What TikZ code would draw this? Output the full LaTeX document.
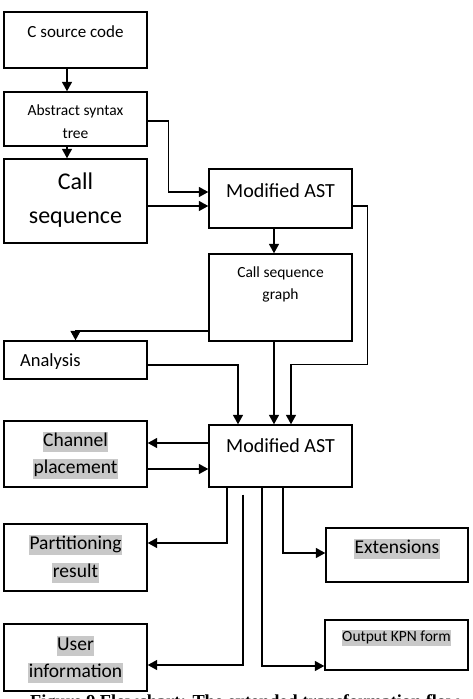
\documentclass[tikz,border=0pt]{standalone}
\usepackage{fontspec}
\setmainfont{Carlito}
\newfontfamily\capfont{Liberation Serif}
\usepackage{tikz}
\usetikzlibrary{arrows.meta}

\definecolor{hlgray}{RGB}{200,200,200}
\newcommand{\hlt}[1]{{\setlength\fboxsep{0.5pt}\colorbox{hlgray}{\rule[-5pt]{0pt}{18.5pt}#1}}}

\tikzset{
  box/.style={draw, line width=1.4pt, minimum width=143pt, inner sep=0pt},
  txt/.style={inner sep=0pt, align=center},
  arr/.style={-{Triangle[length=9.5pt,width=10pt]}, line width=1.4pt},
}

\begin{document}
\begin{tikzpicture}[x=1pt,y=-1pt]
        \path[use as bounding box, fill=white] (0,0) rectangle (473,699);
        % left column
        \node[box, minimum height=56pt] (src) at (75.5,40) {};
        \node[box, minimum height=54pt] (ast) at (75.5,119) {};
        \node[box, minimum height=84pt] (cseq) at (75.5,201) {};
        \node[box, minimum height=38pt] (ana) at (75.5,360) {};
        \node[box, minimum height=66pt] (chan) at (75.5,454) {};
        \node[box, minimum height=67pt] (part) at (75.5,557.5) {};
        \node[box, minimum height=67pt] (user) at (75.5,657.5) {};
        % middle column
        \node[box, minimum height=59pt] (mast) at (280.5,198.5) {};
        \node[box, minimum height=87pt] (csg) at (280.5,297.5) {};
        \node[box, minimum height=62pt] (mast2) at (280.5,456) {};
        % right column
        \node[box, minimum width=142pt, minimum height=54pt] (ext) at (397,555) {};
        \node[box, minimum height=50pt] (kpn) at (396.5,645) {};

        % texts
        \node[txt, font=\fontsize{17}{20}\selectfont] (srcT) at (75.5,32) {C source code};
        \node[txt, font=\fontsize{15.5}{23}\selectfont] (astT) at (75.5,121.5) {Abstract syntax\\tree};
        \node[txt, font=\fontsize{24}{34}\selectfont] (cseqT) at (75.5,200) {Call\\sequence};
        \node[txt, anchor=west, font=\fontsize{18.5}{22}\selectfont] (anaT) at (20,362) {Analysis};
        \node[txt, font=\fontsize{19.5}{27}\selectfont] (chanT) at (75.5,455.5) {\hlt{Channel}\\\hlt{placement}};
        \node[txt, font=\fontsize{19.5}{28}\selectfont] (partT) at (75.5,559) {\hlt{Partitioning}\\\hlt{result}};
        \node[txt, font=\fontsize{19.5}{27}\selectfont] (userT) at (75.5,659.5) {\hlt{User}\\\hlt{information}};
        \node[txt, font=\fontsize{20}{24}\selectfont] (mastT) at (280.5,191) {Modified AST};
        \node[txt, font=\fontsize{15.5}{22}\selectfont] (csgT) at (280.5,284) {Call sequence\\graph};
        \node[txt, font=\fontsize{20}{24}\selectfont] (mast2T) at (280.5,446) {Modified AST};
        \node[txt, font=\fontsize{19.5}{24}\selectfont] (extT) at (397,549) {\hlt{Extensions}};
        \node[txt, font=\fontsize{15.5}{20}\selectfont] (kpnT) at (396.5,638) {{\setlength\fboxsep{0.5pt}\colorbox{hlgray}{\rule[-4pt]{0pt}{15pt}Output KPN form}}};
        \node[txt, anchor=north west, font=\capfont\bfseries\fontsize{18.3}{22}\selectfont] (cap) at (30,694.5) {Figure 9 Flowchart: The extended transformation flow};

        % connectors
        \coordinate (m1in) at ([yshift=-7.5pt]mast.west);
        \coordinate (m2in) at ([xshift=10.5pt]mast2.north);
        \coordinate (chout) at ([yshift=13pt]mast2.west);
        \coordinate (chin) at ([yshift=-13pt]mast2.west);
        \coordinate (uin) at ([yshift=-7.5pt]user.east);

        \draw[arr] ([xshift=-8.5pt]src.south) -- ([xshift=-8.5pt]ast.north);
        \draw[arr] ([xshift=-8.5pt]ast.south) -- ([xshift=-8.5pt]cseq.north);
        \draw[arr] ([yshift=-2pt]ast.east) -- ++(21,0) |- ([yshift=6.5pt]mast.west);
        \draw[arr] (cseq.east |- m1in) -- (m1in);
        \draw[arr] ([xshift=-6.5pt]mast.south) -- ([xshift=-6.5pt]csg.north);
        \draw[arr] ([yshift=-33.5pt]csg.west) -| (ana.north);
        \draw[arr] ([yshift=-7.5pt]mast.east) -- ++(15,0) |- ([yshift=60pt]m2in) -- (m2in);
        \draw[arr] ([xshift=-6.5pt]csg.south) -- ([xshift=-6.5pt]mast2.north);
        \draw[arr] ([yshift=-5pt]ana.east) -| ([xshift=-42.5pt]mast2.north);
        \draw[arr] (chout) -- (chan.east |- chout);
        \draw[arr] (chan.east |- chin) -- (chin);
        \draw[arr] ([xshift=-53.5pt]mast2.south) |- ([yshift=14.5pt]part.east);
        \draw[arr] ([xshift=-37.5pt,yshift=-7pt]mast2.south) |- (uin);
        \draw[arr] ([xshift=-18.5pt]mast2.south) |- ([yshift=-21pt]kpn.west);
        \draw[arr] ([xshift=2.5pt]mast2.south) |- ([yshift=2pt]ext.west);
    \end{tikzpicture}
\end{document}
